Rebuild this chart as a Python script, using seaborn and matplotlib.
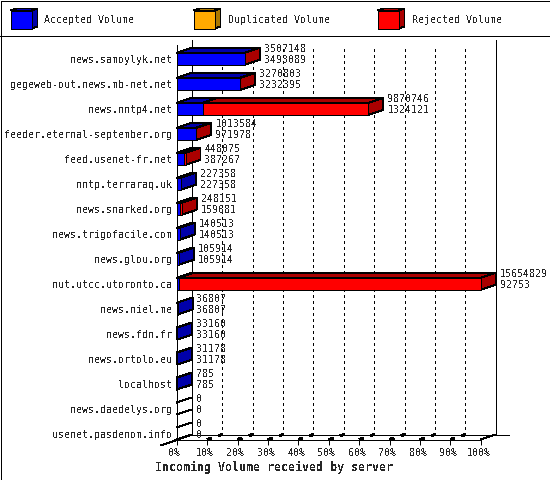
import matplotlib
matplotlib.use("Agg")
import matplotlib.pyplot as plt
from matplotlib.patches import Polygon, Rectangle
from matplotlib.transforms import ScaledTranslation
import pandas as pd
import seaborn as sns

servers = ["news.samoylyk.net", "gegeweb-out.news.mb-net.net", "news.nntp4.net",
           "feeder.eternal-september.org", "feed.usenet-fr.net", "nntp.terraraq.uk",
           "news.snarked.org", "news.trigofacile.com", "news.glou.org",
           "nut.utcc.utoronto.ca", "news.niel.me", "news.fdn.fr", "news.ortolo.eu",
           "localhost", "news.daedelys.org", "usenet.pasdenom.info"]
total_volume = [3507148, 3270803, 9870746, 1013584, 448075, 227358, 248151, 140513,
                105914, 15654829, 36807, 33160, 31178, 785, 0, 0]
accepted_volume = [3493089, 3232395, 1324121, 971978, 387267, 227358, 159681, 140513,
                   105914, 92753, 36807, 33160, 31178, 785, 0, 0]
pct_ticks = [0, 10, 20, 30, 40, 50, 60, 70, 80, 90, 100]
legend_names = ["Accepted Volume", "Duplicated Volume", "Rejected Volume"]

BLUE, DARK_BLUE = "#0000ff", "#0000aa"
ORANGE, DARK_ORANGE = "#ffaa00", "#aa7700"
RED, DARK_RED = "#ff0000", "#aa0000"
LW = 0.72  # one pixel at 100 dpi

sns.set_style("white")
plt.rcParams["font.family"] = ["DejaVu Sans Mono"]
plt.rcParams["text.antialiased"] = False
plt.rcParams["lines.antialiased"] = False
plt.rcParams["patch.antialiased"] = False

W, H = 550, 480
fig = plt.figure(figsize=(W / 100, H / 100), dpi=100, facecolor="white")

# frame, legend and title live in a pixel-sized layer
bg = fig.add_axes([0, 0, 1, 1], zorder=0)
bg.set_xlim(0, W)
bg.set_ylim(H, 0)
bg.axis("off")
bg.add_patch(Rectangle((0.5, 0.5), W - 1, H - 1, fill=False, ec="black", lw=LW))
bg.plot([0, W], [35.5, 35.5], color="black", lw=LW)

for name, x, front, side in zip(legend_names, [10.5, 193.5, 377.5],
                                [BLUE, ORANGE, RED], [DARK_BLUE, DARK_ORANGE, DARK_RED]):
    bg.add_patch(Polygon([(x + 21, 10.5), (x + 27, 8.5), (x + 27, 26.5), (x + 21, 28.5)],
                         fc=side, ec="black", lw=LW))
    bg.add_patch(Polygon([(x, 10.5), (x + 6, 8.5), (x + 27, 8.5), (x + 21, 10.5)],
                         fc=side, ec="black", lw=LW))
    bg.add_patch(Rectangle((x, 10.5), 21, 18, fc=front, ec="black", lw=LW))
    bg.text(x + 34, 20, name, fontsize=7.2, va="center", ha="left")

bg.text(274, 467, "Incoming Volume received by server", fontsize=8.4,
        fontweight="bold", ha="center", va="center")

# main axes is the front plane of the 3D box
ax = fig.add_axes([176.8 / W, (H - 439.5) / H, 304 / W, 395 / H], zorder=1)
ax.patch.set_visible(False)

df = pd.DataFrame({"server": servers, "total": total_volume, "accepted": accepted_volume})
peak = df["total"].max()
df["total_pct"] = df["total"] / peak * 100
df["accepted_pct"] = df["accepted"] / peak * 100

BAR_H = 0.48
sns.barplot(data=df, y="server", x="total_pct", color=RED, saturation=1, width=BAR_H,
            edgecolor="black", linewidth=LW, zorder=4, ax=ax)
sns.barplot(data=df, y="server", x="accepted_pct", color=BLUE, saturation=1, width=BAR_H,
            edgecolor="black", linewidth=LW, zorder=5, ax=ax)
# rows with no volume have no front face at all
for patch in ax.patches:
    if patch.get_width() == 0:
        patch.set_visible(False)

ax.set_xlim(0, 100)
Y_BOTTOM = 15 + BAR_H / 2
ax.set_ylim(Y_BOTTOM, -0.572)
DX = 15 / 3.04   # depth in percent
DY = 0.2         # depth in rows
ax.set_xlabel("")
ax.set_ylabel("")
sns.despine(ax=ax, left=True, bottom=True, right=True, top=True)

# walls and floor
wall = dict(color="black", lw=LW, clip_on=False, zorder=2)
ax.plot([0, 0], [Y_BOTTOM, -0.57], **wall)
ax.plot([DX, DX], [Y_BOTTOM - DY, -0.77], **wall)
ax.plot([100 + DX, 100 + DX], [Y_BOTTOM - DY, -0.77], **wall)
ax.plot([0, 100], [Y_BOTTOM, Y_BOTTOM], color="black", lw=LW, clip_on=False, zorder=6)
ax.plot([DX, 109.4 + DX - 4.93], [Y_BOTTOM - DY, Y_BOTTOM - DY], **wall)
ax.plot([-DX - 0.3, DX], [Y_BOTTOM + DY + 0.04, Y_BOTTOM - DY], **wall)
ax.plot([100, 100 + DX], [Y_BOTTOM, Y_BOTTOM - DY], **wall)

for p in pct_ticks[1:-1]:
    ax.plot([p + DX, p + DX], [Y_BOTTOM - DY, -0.372], color="black", lw=LW,
            ls=(0, (2.6, 3.4)), clip_on=False, zorder=1)
    ax.plot([p, p + DX], [Y_BOTTOM, Y_BOTTOM - DY], color="black", lw=1.2,
            ls=(0, (3, 4.5)), clip_on=False, zorder=2)

# top and side faces of each bar
for i, row in df.iterrows():
    a, t = row["accepted_pct"], row["total_pct"]
    y0, y1 = i - BAR_H / 2, i + BAR_H / 2
    if t == 0:
        ax.plot([0, DX], [y0, y0 - DY], color="black", lw=LW, clip_on=False, zorder=3)
        ax.plot([0, DX], [y1, y1 - DY], color="black", lw=LW, clip_on=False, zorder=3)
    else:
        face = dict(ec="black", lw=LW, clip_on=False, zorder=3)
        ax.add_patch(Polygon([(0, y0), (DX, y0 - DY), (a + DX, y0 - DY), (a, y0)],
                             fc=DARK_BLUE, **face))
        if t > a:
            ax.add_patch(Polygon([(a, y0), (a + DX, y0 - DY), (t + DX, y0 - DY), (t, y0)],
                                 fc=DARK_RED, **face))
        ax.add_patch(Polygon([(t, y0), (t + DX, y0 - DY), (t + DX, y1 - DY), (t, y1)],
                             fc=DARK_RED if t > a else DARK_BLUE, **face))
    for val, off in [(row["total"], 9.3), (row["accepted"], -1.6)]:
        ax.annotate(str(val), xy=(t + DX, i), xytext=(3, off * 0.72),
                    textcoords="offset points", fontsize=7.2, ha="left", va="center",
                    annotation_clip=False, zorder=7)

ax.set_xticks(pct_ticks)
ax.set_xticklabels([f"{p}%" for p in pct_ticks], fontsize=7.2)
ax.tick_params(axis="x", bottom=True, length=3.6, width=LW, color="black", pad=2.7, zorder=6)
ax.tick_params(axis="y", left=False, length=0, pad=3.2, labelsize=7.2)
for lab in ax.get_xticklabels():
    lab.set_transform(lab.get_transform() + ScaledTranslation(-2 / 100, 0, fig.dpi_scale_trans))

fig.savefig("out.png", dpi=100)
